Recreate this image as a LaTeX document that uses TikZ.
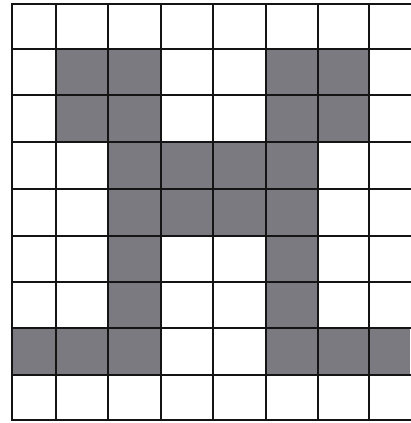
\documentclass[tikz,border=0pt]{standalone}
\definecolor{cellgray}{RGB}{122,122,128}
\definecolor{linecol}{RGB}{20,20,20}
\tikzset{
  gridline/.style={draw=linecol, line width=1.6pt, line cap=rect},
  shaded/.style={fill=cellgray}
}
\begin{document}
\begin{tikzpicture}[x=1pt,y=-1pt]
\useasboundingbox (0,0) rectangle (410,423);
\fill[white] (0,0) rectangle (410,423);
\def\xs{{12,56,108,161,213,266,318,369,410}}
\def\ys{{4,49,95,142,189,236,282,328,375,420}}
\foreach \c/\r in {1/1,2/1,5/1,6/1,1/2,2/2,5/2,6/2,2/3,3/3,4/3,5/3,2/4,3/4,4/4,5/4,2/5,5/5,2/6,5/6,0/7,1/7,2/7,5/7,6/7,7/7}{
  \pgfmathsetmacro\xa{\xs[\c]}
  \pgfmathsetmacro\xb{\xs[\c+1]}
  \pgfmathsetmacro\ya{\ys[\r]}
  \pgfmathsetmacro\yb{\ys[\r+1]}
  \fill[shaded] (\xa,\ya) rectangle (\xb,\yb);
}
\foreach \y in {4,49,95,142,189,236,282,328,375,420}{
  \draw[gridline] (12,\y) -- (412,\y);
}
\foreach \x in {12,56,108,161,213,266,318,369}{
  \draw[gridline] (\x,4) -- (\x,420);
}
\end{tikzpicture}
\end{document}
